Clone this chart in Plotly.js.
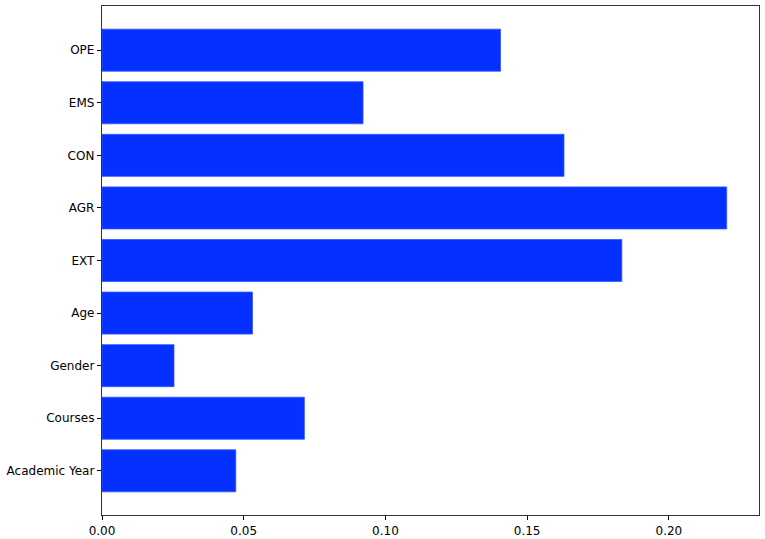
<!DOCTYPE html>
<html>
<head>
<meta charset="utf-8">
<script src="https://cdn.plot.ly/plotly-3.0.1.min.js"></script>
<style>html,body{margin:0;padding:0;background:#fff;}#chart{width:765px;height:539px;}</style>
</head>
<body>
<div id="chart"></div>
<script>
const categories = ["Academic Year", "Courses", "Gender", "Age", "EXT", "AGR", "CON", "EMS", "OPE"];
const importance = [0.0472, 0.0714, 0.0254, 0.0531, 0.1834, 0.2204, 0.1630, 0.0921, 0.1406];
const xTickVals = [0, 0.05, 0.10, 0.15, 0.20];
const xTickText = ["0.00", "0.05", "0.10", "0.15", "0.20"];

const trace = {
  type: "bar",
  orientation: "h",
  y: categories,
  x: importance,
  width: 0.8,
  marker: { color: "#0431FF", line: { color: "#3355FF", width: 0.8 } },
  hoverinfo: "none"
};

const layout = {
  width: 765,
  height: 539,
  margin: { l: 102, r: 6, t: 6, b: 24, pad: 0 },
  paper_bgcolor: "#ffffff",
  plot_bgcolor: "#ffffff",
  showlegend: false,
  bargap: 0.2,
  font: { family: "DejaVu Sans, sans-serif", size: 12, color: "#000" },
  xaxis: {
    range: [0, 0.2318],
    tickvals: xTickVals,
    ticktext: xTickText,
    ticks: "outside",
    ticklen: 4,
    tickwidth: 1,
    tickcolor: "#000",
    showgrid: false,
    zeroline: false,
    showline: true,
    linecolor: "#333",
    linewidth: 1.2,
    mirror: true,
    automargin: false,
    tickfont: { family: "DejaVu Sans, sans-serif", size: 12, color: "#000" }
  },
  yaxis: {
    type: "category",
    categoryorder: "array",
    categoryarray: categories,
    range: [-0.84, 8.84],
    ticks: "outside",
    ticklen: 4,
    tickwidth: 1,
    tickcolor: "#000",
    showgrid: false,
    zeroline: false,
    showline: true,
    linecolor: "#333",
    linewidth: 1.2,
    mirror: true,
    automargin: false,
    tickfont: { family: "DejaVu Sans, sans-serif", size: 12, color: "#000" }
  }
};

Plotly.newPlot("chart", [trace], layout, { staticPlot: true, displayModeBar: false });
</script>
</body>
</html>
